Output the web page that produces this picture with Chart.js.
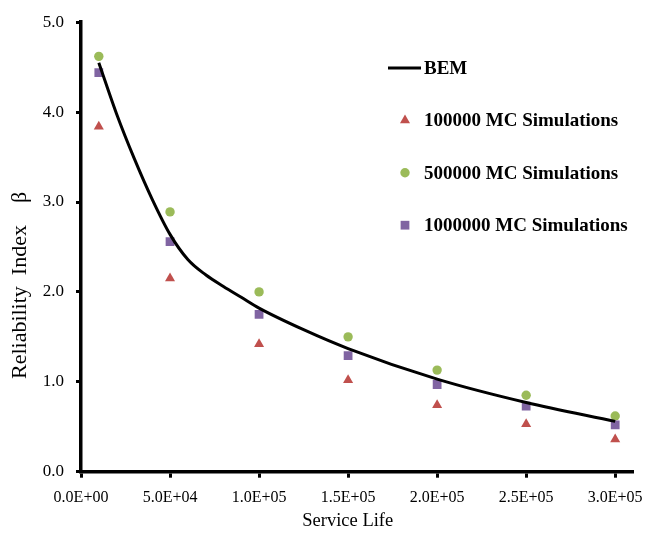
<!DOCTYPE html>
<html>
<head>
<meta charset="utf-8">
<script src="https://cdn.jsdelivr.net/npm/chart.js@4/dist/chart.umd.min.js"></script>
<style>
html,body{margin:0;padding:0;background:#fff;}
#wrap{width:649px;height:535px;position:relative;}
</style>
</head>
<body>
<div id="wrap"><canvas id="c" width="649" height="535"></canvas></div>
<script>
// ---- data ----
const serviceLife = [10000, 50000, 100000, 150000, 200000, 250000, 300000];
const mc100k = [3.84, 2.15, 1.42, 1.02, 0.74, 0.53, 0.36];
const mc500k = [4.62, 2.89, 2.00, 1.50, 1.13, 0.85, 0.62];
const mc1000k = [4.44, 2.56, 1.75, 1.29, 0.97, 0.73, 0.52];
const bemLife = [10000, 20000, 30000, 40000, 50000, 60000, 70000, 80000, 90000, 100000, 125000, 150000, 200000, 250000, 300000];
const bemBeta = [4.55, 3.98, 3.48, 3.03, 2.64, 2.36, 2.19, 2.06, 1.94, 1.82, 1.58, 1.37, 1.03, 0.77, 0.56];
const seriesNames = ['BEM', '100000 MC Simulations', '500000 MC Simulations', '1000000 MC Simulations'];
const xTicks = [0, 50000, 100000, 150000, 200000, 250000, 300000];
const yTicks = [0, 1, 2, 3, 4, 5];

const SERIF = '"Liberation Serif", "Times New Roman", serif';
const pts = (xs, ys) => xs.map((x, i) => ({x: x, y: ys[i]}));

function sci(v) {
  if (v === 0) return '0.0E+00';
  const e = Math.floor(Math.log10(Math.abs(v)) + 1e-9);
  const m = v / Math.pow(10, e);
  return m.toFixed(1) + 'E' + (e < 0 ? '-' : '+') + String(Math.abs(e)).padStart(2, '0');
}

const legendPlugin = {
  id: 'customLegend',
  afterDatasetsDraw(chart) {
    const ctx = chart.ctx;
    const x0 = 388, boxW = 33, textX = 424, y0 = 68, step = 52.4;
    ctx.save();
    chart.data.datasets.forEach((ds, i) => {
      const y = y0 + i * step;
      if (ds.pointRadius === 0) {
        ctx.strokeStyle = ds.borderColor;
        ctx.lineWidth = ds.borderWidth;
        ctx.beginPath();
        ctx.moveTo(x0, y);
        ctx.lineTo(x0 + boxW, y);
        ctx.stroke();
      } else {
        ctx.fillStyle = ds.backgroundColor;
        ctx.strokeStyle = ds.borderColor;
        ctx.lineWidth = 0;
        Chart.helpers.drawPoint(ctx, {pointStyle: ds.pointStyle, radius: ds.pointRadius, borderWidth: 0, rotation: 0}, x0 + boxW / 2 + 0.5, y);
      }
      ctx.fillStyle = '#000';
      ctx.font = 'bold 19px ' + SERIF;
      ctx.textBaseline = 'middle';
      ctx.textAlign = 'left';
      ctx.fillText(ds.label, textX, y + 1);
    });
    ctx.restore();
  }
};

new Chart(document.getElementById('c'), {
  type: 'scatter',
  data: {
    datasets: [
      {label: seriesNames[0], data: pts(bemLife, bemBeta), showLine: true, borderColor: '#000', backgroundColor: '#000', borderWidth: 3, pointRadius: 0, cubicInterpolationMode: 'monotone', order: 0},
      {label: seriesNames[1], data: pts(serviceLife, mc100k), pointStyle: 'triangle', pointRadius: 5.8, borderWidth: 0, backgroundColor: '#C0504D', borderColor: '#C0504D', showLine: false, order: 3},
      {label: seriesNames[2], data: pts(serviceLife, mc500k), pointStyle: 'circle', pointRadius: 4.7, borderWidth: 0, backgroundColor: '#9BBB59', borderColor: '#9BBB59', showLine: false, order: 2},
      {label: seriesNames[3], data: pts(serviceLife, mc1000k), pointStyle: 'rect', pointRadius: 6.2, borderWidth: 0, backgroundColor: '#8064A2', borderColor: '#8064A2', showLine: false, order: 1}
    ]
  },
  options: {
    responsive: false,
    animation: false,
    devicePixelRatio: 1,
    layout: {padding: {top: 20, right: 16, bottom: 0, left: 0}},
    plugins: {legend: {display: false}, tooltip: {enabled: false}},
    elements: {point: {hoverRadius: 0}},
    scales: {
      x: {
        type: 'linear', min: 0, max: 310000,
        afterBuildTicks: (s) => { s.ticks = xTicks.map((v) => ({value: v})); },
        afterFit: (s) => { s.height = 63.3; s.paddingRight = 0; s.paddingLeft = 0; },
        border: {display: true, color: '#000', width: 3.5},
        grid: {display: true, drawOnChartArea: false, drawTicks: true, tickLength: 6, tickWidth: 3, tickColor: '#000', color: '#000'},
        ticks: {autoSkip: false, maxRotation: 0, padding: 10, color: '#000', font: {family: SERIF, size: 16}, callback: (v) => sci(v)},
        title: {display: true, text: 'Service Life    ', color: '#000', font: {family: SERIF, size: 18.5}, padding: {top: 0, bottom: 3}}
      },
      y: {
        type: 'linear', min: yTicks[0], max: yTicks[yTicks.length - 1],
        afterBuildTicks: (s) => { s.ticks = yTicks.map((v) => ({value: v})); },
        afterFit: (s) => { s.width = 81; },
        border: {display: true, color: '#000', width: 3.5},
        grid: {display: true, drawOnChartArea: false, drawTicks: true, tickLength: 5, tickWidth: 3, tickColor: '#000', color: '#000'},
        ticks: {padding: 12, color: '#000', font: {family: SERIF, size: 17}, callback: (v) => Number(v).toFixed(1)},
        title: {display: true, text: 'Reliability  Index    β              ', color: '#000', font: {family: SERIF, size: 22}, padding: {top: 7, bottom: 0}}
      }
    }
  },
  plugins: [legendPlugin]
});
</script>
</body>
</html>
